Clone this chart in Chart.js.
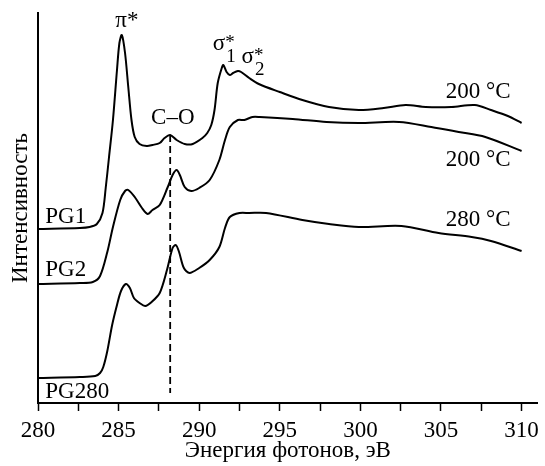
<!DOCTYPE html>
<html>
<head>
<meta charset="utf-8">
<script src="https://cdn.jsdelivr.net/npm/chart.js@4/dist/chart.umd.min.js"></script>
<style>
  body { margin: 0; background: #fff; }
  canvas { display: block; }
</style>
</head>
<body>
<canvas id="spectra" width="545" height="466"></canvas>
<script>
// Энергия (эВ) и интенсивность (усл. ед.) для трёх образцов
const energyPG1 = [280.0, 282.6, 283.2, 283.65, 284.0, 284.2, 284.4, 284.65, 284.9, 285.05, 285.2, 285.4, 285.6, 285.8, 286.0, 286.3, 286.75, 287.1, 287.55, 287.85, 288.2, 288.6, 289.1, 289.6, 290.2, 290.5, 290.75, 290.95, 291.15, 291.4, 291.5, 291.7, 291.9, 292.1, 292.4, 292.6, 293.1, 293.7, 295.0, 296.4, 298.05, 299.9, 301.45, 302.8, 304.05, 305.65, 307.1, 308.1, 309.15, 310.0];
const intensityPG1 = [174, 175, 176, 179, 190, 215, 245, 283, 333, 360, 368, 350, 316, 283, 266, 259, 257, 258, 260, 265, 268, 263, 259, 259, 265, 270, 278, 293, 320, 335, 338, 331, 328, 330, 332, 331, 325, 319, 311, 303, 296, 293, 295, 298, 296, 296, 298, 293, 287, 280];

const energyPG2 = [280.0, 282.6, 283.4, 283.85, 284.3, 284.65, 285.1, 285.4, 285.6, 286.0, 286.45, 286.8, 287.1, 287.55, 288.05, 288.35, 288.6, 288.8, 289.1, 289.5, 290.0, 290.65, 291.25, 291.6, 291.9, 292.4, 292.8, 293.3, 293.75, 295.8, 297.9, 299.9, 302.4, 304.4, 306.1, 307.75, 310.0];
const intensityPG2 = [119, 120, 121, 127, 151, 176, 203, 212, 213, 206, 195, 189, 193, 198, 216, 228, 233, 228, 216, 212, 215, 223, 243, 263, 276, 283, 283, 286, 286, 284, 281, 280, 281, 276, 271, 266, 252];

const energyPG280 = [280.0, 282.6, 283.55, 283.85, 284.05, 284.3, 284.6, 284.9, 285.15, 285.45, 285.7, 285.95, 286.3, 286.65, 287.05, 287.55, 288.0, 288.35, 288.55, 288.75, 289.05, 289.4, 290.0, 290.65, 291.25, 291.6, 291.9, 292.5, 293.1, 294.15, 296.4, 298.05, 299.9, 302.55, 304.85, 306.9, 308.1, 310.0];
const intensityPG280 = [25, 26, 27, 30, 36, 52, 78, 98, 112, 119, 115, 105, 100, 97, 101, 110, 133, 155, 158, 151, 135, 130, 135, 143, 156, 175, 186, 190, 190, 190, 183, 179, 176, 177, 170, 166, 162, 152];

// пунктир C–O
const coEnergy = 288.2;
const coRange = [268, 10];

const xTicksMajor = [280, 285, 290, 295, 300, 305, 310];

const serif = "'Liberation Serif', 'Times New Roman', serif";

function toPoints(xs, ys) {
    return xs.map((x, i) => ({ x: x, y: ys[i] }));
}

function curve(xs, ys) {
    return {
        data: toPoints(xs, ys),
        borderColor: '#000',
        borderWidth: 2,
        pointRadius: 0,
        fill: false,
        tension: 0.3
    };
}

// подписи в координатах данных
const textLabels = [
    { text: 'PG1', x: 280.45, y: 180, align: 'left' },
    { text: 'PG2', x: 280.45, y: 127, align: 'left' },
    { text: 'PG280', x: 280.45, y: 5, align: 'left' },
    { text: '200 °C', x: 305.3, y: 305, align: 'left' },
    { text: '200 °C', x: 305.3, y: 237, align: 'left' },
    { text: '280 °C', x: 305.3, y: 177, align: 'left' },
    { text: 'C–O', x: 288.36, y: 279, align: 'center' },
    { text: 'π*', x: 284.8, y: 376, align: 'left' }
];
const sigmaLabels = [
    { sub: '1', x: 290.84, y: 353 },
    { sub: '2', x: 292.63, y: 340 }
];

const labelPlugin = {
    id: 'labels',
    afterDatasetsDraw(chart) {
        const ctx = chart.ctx;
        const xs = chart.scales.x;
        const ys = chart.scales.y;
        ctx.save();
        ctx.fillStyle = '#000';
        ctx.textBaseline = 'alphabetic';
        ctx.font = '23px ' + serif;
        textLabels.forEach(l => {
            ctx.textAlign = l.align;
            ctx.fillText(l.text, xs.getPixelForValue(l.x), ys.getPixelForValue(l.y));
        });
        sigmaLabels.forEach(l => {
            const px = xs.getPixelForValue(l.x);
            const py = ys.getPixelForValue(l.y);
            ctx.textAlign = 'left';
            ctx.font = '23px ' + serif;
            ctx.fillText('σ', px, py);
            const w = ctx.measureText('σ').width;
            ctx.font = '19px ' + serif;
            ctx.fillText('*', px + w, py - 2);
            ctx.fillText(l.sub, px + w + 1, py + 12);
        });
        ctx.restore();
    }
};

const chart = new Chart(document.getElementById('spectra'), {
    type: 'line',
    data: {
        datasets: [
            curve(energyPG1, intensityPG1),
            curve(energyPG2, intensityPG2),
            curve(energyPG280, intensityPG280),
            {
                data: [{ x: coEnergy, y: coRange[0] }, { x: coEnergy, y: coRange[1] }],
                borderColor: '#000',
                borderWidth: 1.8,
                borderDash: [7, 4],
                pointRadius: 0,
                fill: false
            }
        ]
    },
    options: {
        responsive: false,
        animation: false,
        layout: { padding: { top: 13, right: 5, left: 0, bottom: 0 } },
        plugins: { legend: { display: false }, tooltip: { enabled: false } },
        scales: {
            x: {
                type: 'linear',
                min: 280,
                max: 311,
                afterFit(scale) { scale.height = 63; },
                ticks: {
                    stepSize: 2.5,
                    includeBounds: false,
                    autoSkip: false,
                    maxRotation: 0,
                    padding: 6,
                    color: '#000',
                    font: { family: serif, size: 23 },
                    callback: v => xTicksMajor.includes(v) ? String(v) : ''
                },
                grid: {
                    drawOnChartArea: false,
                    drawTicks: true,
                    tickLength: 8,
                    tickColor: '#000',
                    tickWidth: 1.5
                },
                border: { display: true, color: '#000', width: 2 },
                title: {
                    display: true,
                    text: 'Энергия фотонов, эВ',
                    color: '#000',
                    font: { family: serif, size: 23 },
                    padding: { top: 0, bottom: 1 }
                }
            },
            y: {
                min: 0,
                max: 390,
                afterFit(scale) { scale.width = 38; },
                ticks: { display: false },
                grid: { drawOnChartArea: false, drawTicks: false },
                border: { display: true, color: '#000', width: 2 },
                title: {
                    display: true,
                    text: 'Интенсивность',
                    color: '#000',
                    font: { family: serif, size: 23 },
                    padding: { top: 7, bottom: 0 }
                }
            }
        }
    },
    plugins: [labelPlugin]
});
</script>
</body>
</html>
